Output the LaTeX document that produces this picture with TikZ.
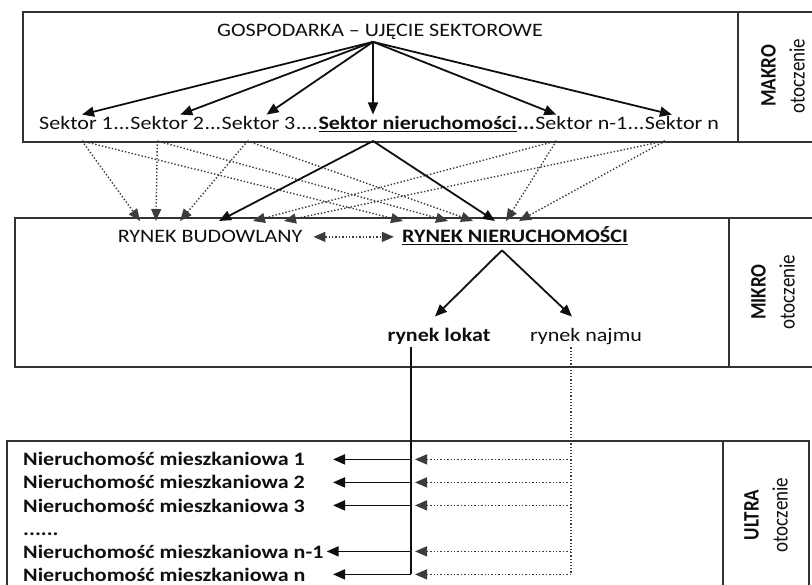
\documentclass[tikz,border=0pt]{standalone}
\usepackage{fontspec}
\setmainfont{Carlito}
\usepackage{tikz}
\usetikzlibrary{arrows.meta, calc}
\definecolor{ink}{RGB}{15, 15, 15}
\definecolor{frameline}{RGB}{50, 50, 50}
\definecolor{dots}{RGB}{60, 60, 60}

\begin{document}
\begin{tikzpicture}[x=1pt, y=-1pt,
    txt/.style={font=\fontsize{19}{23}\selectfont, xscale=1.16, text=ink, inner xsep=0pt, inner ysep=2pt},
    side/.style={txt, rotate=90, align=center, font=\fontsize{19}{25}\selectfont},
    frame/.style={draw=frameline, line width=1.3pt},
    arr/.style={draw=ink, line width=1.8pt, -{Triangle[length=12pt, width=10pt]}},
    dotarr/.style={draw=dots, line width=1.4pt, dotted, -{Triangle[length=12pt, width=10pt]}}]

  \useasboundingbox (0, 0) rectangle (812, 585);

  % MAKRO
  \draw[frame] (23, 12) rectangle (830, 142);
  \draw[frame] (738, 12) -- (738, 142);
  \node[side] (makro) at (783, 76) {\textbf{MAKRO}\\otoczenie};

  \node[txt] (gosp) at (380, 32) {GOSPODARKA – UJĘCIE SEKTOROWE};
  \coordinate (apex) at ($(gosp.south)+(-7, 0)$);

  \node[txt, anchor=base west] (s1) at (39, 130) {Sektor 1};
  \node[txt, anchor=base west] (d1) at (s1.base east) {...};
  \node[txt, anchor=base west] (s2) at (d1.base east) {Sektor 2};
  \node[txt, anchor=base west] (d2) at (s2.base east) {...};
  \node[txt, anchor=base west] (s3) at (d2.base east) {Sektor 3};
  \node[txt, anchor=base west] (d3) at (s3.base east) {....};
  \node[txt, anchor=base west] (sn) at (d3.base east) {\textbf{\underline{Sektor nieruchomości}}};
  \node[txt, anchor=base west] (d4) at (sn.base east) {\textbf{...}};
  \node[txt, anchor=base west] (s4) at (d4.base east) {Sektor n-1};
  \node[txt, anchor=base west] (d5) at (s4.base east) {...};
  \node[txt, anchor=base west] (s5) at (d5.base east) {Sektor n};

  \foreach \s/\o in {s1/6, s2/13, s3/8, s4/-25, s5/-10}
    \draw[arr] (apex) -- ($(\s.north)+(\o, 0)$);
  \draw[arr] (apex) -- (apex |- sn.north);

  % MIKRO
  \draw[frame] (15, 218) rectangle (830, 367);
  \draw[frame] (729, 218) -- (729, 367);
  \node[side] (mikro) at (773, 292) {\textbf{MIKRO}\\otoczenie};

  \node[txt, anchor=base] (rb) at (210, 243) {RYNEK BUDOWLANY};
  \node[txt, anchor=base] (rn) at (515, 243) {\textbf{\underline{RYNEK NIERUCHOMOŚCI}}};
  \draw[dotarr, {Triangle[length=12pt, width=10pt]}-{Triangle[length=12pt, width=10pt]}]
    ($(rb.east)+(11, 0)$) -- ($(rb.east -| rn.west)+(-8, 0)$);

  \coordinate (topb) at (0, 141);
  \coordinate (midt) at (0, 221);
  \foreach \s/\a/\b/\c in {s1/6/-70/-112, s2/-10/-54/-67, s3/-11/-30/-42, s4/-25/43/-9, s5/-17/74/4} {
    \draw[dotarr] ($(\s.south |- topb)+(\a, 0)$) -- ($(rb.north |- midt)+(\b, 0)$);
    \draw[dotarr] ($(\s.south |- topb)+(\a, 0)$) -- ($(rn.north |- midt)+(\c, 0)$);
  }
  \draw[arr] (apex |- topb) -- ($(rb.north |- midt)+(9, 0)$);
  \draw[arr] (apex |- topb) -- ($(rn.north |- midt)+(-20, 0)$);

  \node[txt, anchor=base] (lok) at (439, 342) {\textbf{rynek lokat}};
  \node[txt, anchor=base] (naj) at (586, 342) {rynek najmu};
  \coordinate (rnb) at ($(rn.south)+(-13, 3)$);
  \draw[arr] (rnb) -- ($(lok.north)+(-4, -10)$);
  \draw[arr] (rnb) -- ($(naj.north)+(-14, -10)$);

  % ULTRA
  \draw[frame] (7, 441) rectangle (809, 600);
  \draw[frame] (723, 441) -- (723, 600);
  \node[side] (ultra) at (766, 515) {\textbf{ULTRA}\\otoczenie};

  \foreach \i/\t/\y in {1/1/466, 2/2/489, 3/3/512, 5/n-1/558, 6/n/581}
    \node[txt, inner ysep=0pt, anchor=base west] (r\i) at (23, \y) {\textbf{Nieruchomość mieszkaniowa \t}};
  \node[txt, inner ysep=0pt, anchor=base west] (r4) at (23, 535) {\textbf{......}};

  \coordinate (lv) at ($(lok.south)+(-28, 0)$);
  \coordinate (nv) at ($(naj.south)+(-15, 0)$);
  \coordinate (tip) at (333, 0);
  \coordinate (tip5) at ($(r5.east)+(3, 0)$);
  \coordinate (tipd) at ($(lv)+(4, 0)$);
  \draw[draw=ink, line width=1.4pt] (lv) -- (lv |- r6.east);
  \draw[draw=dots, line width=1.2pt, dotted] (nv) -- (nv |- r6.east);
  \foreach \i/\e in {1/tip, 2/tip, 3/tip, 5/tip5, 6/tip} {
    \draw[arr] (r\i.east -| lv) -- (r\i.east -| \e);
    \draw[dotarr] (r\i.east -| nv) -- (r\i.east -| tipd);
  }

\end{tikzpicture}
\end{document}
